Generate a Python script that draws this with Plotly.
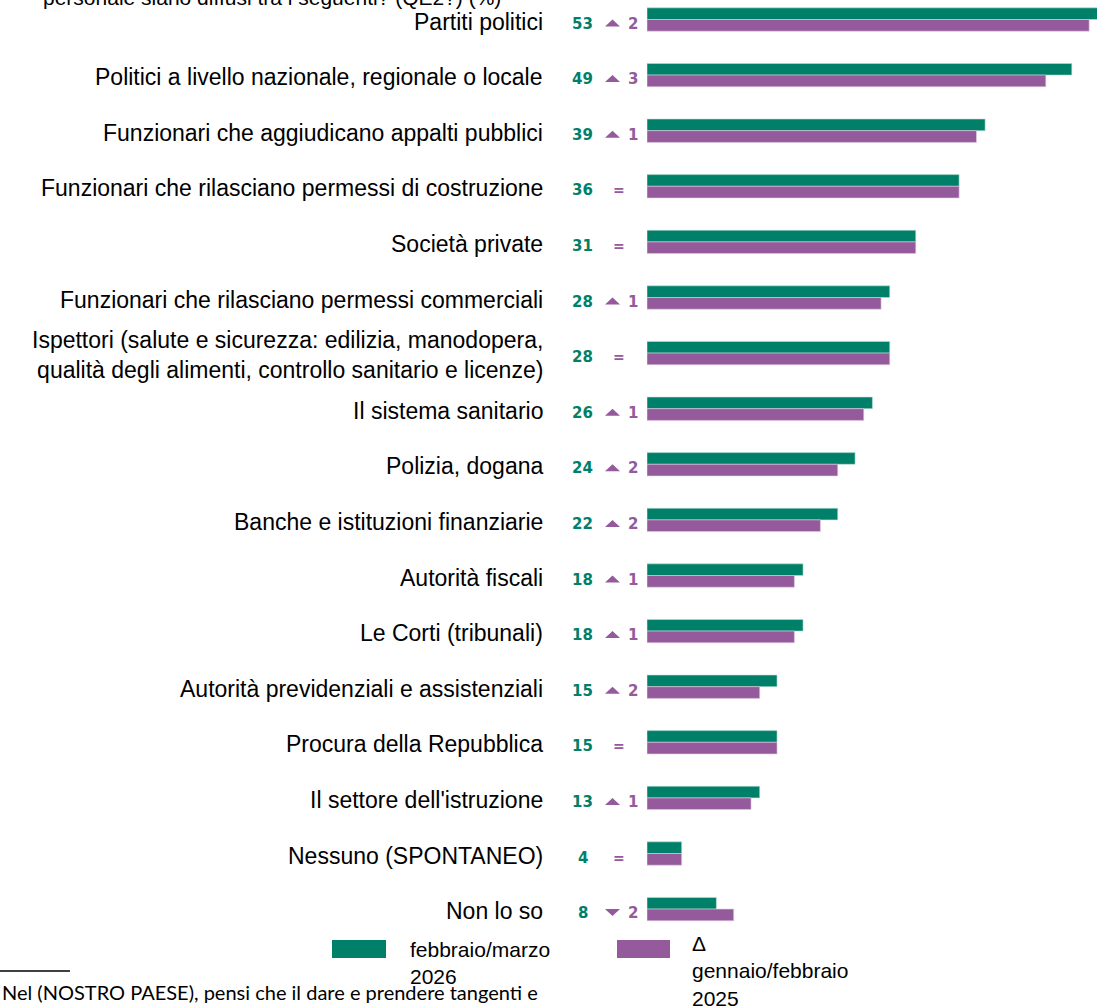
import plotly.graph_objects as go

COLOR_NEW = "#008068"
COLOR_OLD = "#945a9b"
LABEL_FONT = "Liberation Sans, Arial, sans-serif"
NUM_FONT = "DejaVu Sans, Verdana, sans-serif"

categories = [
    "Partiti politici",
    "Politici a livello nazionale, regionale o locale",
    "Funzionari che aggiudicano appalti pubblici",
    "Funzionari che rilasciano permessi di costruzione",
    "Società private",
    "Funzionari che rilasciano permessi commerciali",
    "Ispettori (salute e sicurezza: edilizia, manodopera,<br>qualità degli alimenti, controllo sanitario e licenze)",
    "Il sistema sanitario",
    "Polizia, dogana",
    "Banche e istituzioni finanziarie",
    "Autorità fiscali",
    "Le Corti (tribunali)",
    "Autorità previdenziali e assistenziali",
    "Procura della Repubblica",
    "Il settore dell'istruzione",
    "Nessuno (SPONTANEO)",
    "Non lo so",
]
values_2026 = [53, 49, 39, 36, 31, 28, 28, 26, 24, 22, 18, 18, 15, 15, 13, 4, 8]
values_2025 = [51, 46, 38, 36, 31, 27, 28, 25, 22, 20, 17, 17, 13, 15, 12, 4, 10]
deltas = ["+2", "+3", "+1", "=", "=", "+1", "=", "+1", "+2", "+2", "+1", "+1", "+2", "=", "+1", "=", "-2"]

name_2026 = "febbraio/marzo<br>2026"
name_2025 = "Δ<br>gennaio/febbraio<br>2025"
title_text = "personale siano diffusi tra i seguenti? (QE2?) (%)"
footnote = "Nel (NOSTRO PAESE), pensi che il dare e prendere tangenti e"

# pixel geometry of the plot area
PLOT_LEFT = 647
PLOT_W = 1097 - PLOT_LEFT
PLOT_H = 930
PX_PER_UNIT = 8.67
ROW0 = 19.5
ROW_STEP = 55.6


def px_x(px):
    return (px - PLOT_LEFT) / PLOT_W


def px_y(py):
    return (PLOT_H - py) / PLOT_H


ypos = list(range(len(categories)))
bw = 0.21

fig = go.Figure()
fig.add_trace(go.Bar(
    y=ypos, x=values_2026, orientation="h", name=name_2026,
    width=bw, offset=-bw, marker=dict(color=COLOR_NEW, line=dict(color="#bfe0d8", width=0.6)),
    showlegend=False, hovertemplate="%{x}<extra></extra>"
))
fig.add_trace(go.Bar(
    y=ypos, x=values_2025, orientation="h", name=name_2025,
    width=bw, offset=0, marker=dict(color=COLOR_OLD, line=dict(color="#e0cde3", width=0.6)),
    showlegend=False, hovertemplate="%{x}<extra></extra>"
))

annotations = []
shapes = []
for i, cat in enumerate(categories):
    # category label
    annotations.append(dict(
        x=0, y=i, xref="paper", yref="y", xanchor="right", yanchor="middle",
        xshift=545 - PLOT_LEFT, yshift=-2, text=cat, showarrow=False, align="right",
        font=dict(family=LABEL_FONT, size=23, color="#000000")
    ))
    # current value
    annotations.append(dict(
        x=0, y=i, xref="paper", yref="y", xanchor="center", yanchor="middle",
        xshift=582.5 - PLOT_LEFT, yshift=-4, text=f"<b>{values_2026[i]}</b>", showarrow=False,
        font=dict(family=NUM_FONT, size=15, color=COLOR_NEW)
    ))
    # change vs previous wave
    d = deltas[i]
    if d == "=":
        annotations.append(dict(
            x=0, y=i, xref="paper", yref="y", xanchor="center", yanchor="middle",
            xshift=619 - PLOT_LEFT, yshift=-4, text="<b>=</b>", showarrow=False,
            font=dict(family=NUM_FONT, size=14, color=COLOR_OLD)
        ))
    else:
        annotations.append(dict(
            x=0, y=i, xref="paper", yref="y", xanchor="center", yanchor="middle",
            xshift=633 - PLOT_LEFT, yshift=-4, text=f"<b>{d[1:]}</b>", showarrow=False,
            font=dict(family=NUM_FONT, size=15, color=COLOR_OLD)
        ))
        # flat arrow glyph, drawn as a small path next to the number
        xl, xc, xr = px_x(605), px_x(612.5), px_x(620)
        if d.startswith("+"):
            path = f"M {xl},{i + 0.126} L {xr},{i + 0.126} L {xc},{i} Z"
        else:
            path = f"M {xl},{i} L {xr},{i} L {xc},{i + 0.126} Z"
        shapes.append(dict(type="path", xref="paper", yref="y", path=path,
                           fillcolor=COLOR_OLD, line=dict(width=0)))

# cut-off title line at the very top
annotations.append(dict(
    x=0, y=1, xref="paper", yref="paper", xanchor="center", yanchor="bottom",
    xshift=272 - PLOT_LEFT, yshift=-11, text=title_text, showarrow=False,
    font=dict(family=LABEL_FONT, size=21, color="#000000")
))

# legend texts
annotations.append(dict(
    x=0, y=0, xref="paper", yref="paper", xanchor="left", yanchor="top",
    xshift=408 - PLOT_LEFT, yshift=-6, text=name_2026, showarrow=False, align="left",
    font=dict(family=LABEL_FONT, size=21, color="#000000")
))
annotations.append(dict(
    x=0, y=0, xref="paper", yref="paper", xanchor="left", yanchor="top",
    xshift=690 - PLOT_LEFT, yshift=0, text=name_2025, showarrow=False, align="left",
    font=dict(family=LABEL_FONT, size=21, color="#000000")
))

# footnote
annotations.append(dict(
    x=0, y=0, xref="paper", yref="paper", xanchor="left", yanchor="middle",
    xshift=-PLOT_LEFT, yshift=-62, text=footnote, showarrow=False,
    font=dict(family="Lato, Open Sans, sans-serif", size=20, color="#000000")
))

shapes += [
    # legend swatches
    dict(type="rect", xref="paper", yref="paper", x0=px_x(332), x1=px_x(386),
         y0=px_y(940), y1=px_y(958), fillcolor=COLOR_NEW, line=dict(width=0)),
    dict(type="rect", xref="paper", yref="paper", x0=px_x(617), x1=px_x(670),
         y0=px_y(940), y1=px_y(958), fillcolor=COLOR_OLD, line=dict(width=0)),
    # footnote rule
    dict(type="line", xref="paper", yref="paper", x0=px_x(0), x1=px_x(70),
         y0=px_y(971), y1=px_y(971), line=dict(color="#000000", width=1.5)),
]

fig.update_layout(
    width=1097, height=1008,
    margin=dict(l=PLOT_LEFT, r=0, t=0, b=1008 - PLOT_H),
    plot_bgcolor="white", paper_bgcolor="white",
    annotations=annotations, shapes=shapes,
    showlegend=False,
)
fig.update_xaxes(range=[0, PLOT_W / PX_PER_UNIT], visible=False)
fig.update_yaxes(range=[(PLOT_H - ROW0) / ROW_STEP, -ROW0 / ROW_STEP], visible=False)

fig.write_html("out.html", config={"displayModeBar": False},
               post_script="document.body.style.margin='0';")
